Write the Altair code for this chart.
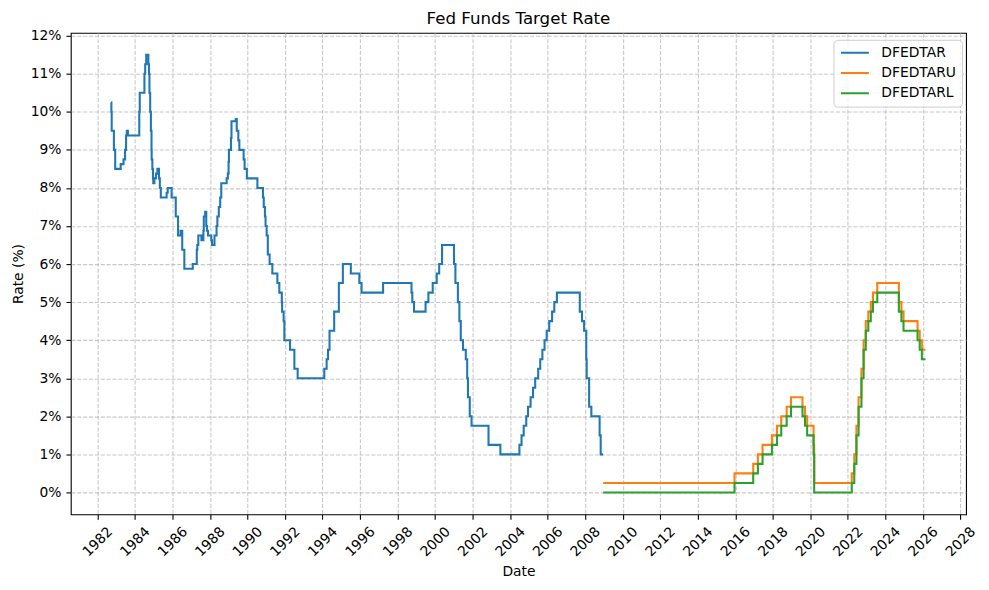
import altair as alt
import pandas as pd

# ---- data (change dates and rates, %) ----
tar_dates = [
    "1982-09-27", "1982-10-01", "1982-10-07", "1982-11-19", "1982-12-14",
    "1983-03-31", "1983-05-25", "1983-06-24", "1983-07-14", "1983-07-28", "1983-08-18",
    "1984-03-27", "1984-04-05", "1984-07-05", "1984-07-20", "1984-08-09", "1984-09-20",
    "1984-10-02", "1984-10-11", "1984-10-25", "1984-11-08", "1984-11-20", "1984-11-23",
    "1984-12-06", "1984-12-18", "1984-12-24",
    "1985-01-15", "1985-02-14", "1985-03-15", "1985-04-15", "1985-05-01", "1985-05-20",
    "1985-09-10", "1985-10-01", "1985-12-16",
    "1986-03-07", "1986-04-21", "1986-06-10", "1986-07-11", "1986-08-21",
    "1987-02-01", "1987-04-20", "1987-05-01", "1987-05-20", "1987-07-20", "1987-08-27",
    "1987-09-04", "1987-10-01", "1987-10-22", "1987-11-04", "1987-11-25",
    "1988-01-28", "1988-02-11", "1988-03-30", "1988-05-09", "1988-05-25", "1988-06-22",
    "1988-07-19", "1988-08-09", "1988-11-22", "1988-12-15", "1988-12-29",
    "1989-01-05", "1989-02-14", "1989-02-24", "1989-05-17", "1989-06-06", "1989-07-07",
    "1989-07-27", "1989-10-18", "1989-11-06", "1989-12-20",
    "1990-07-13", "1990-10-29", "1990-11-14", "1990-12-07", "1990-12-19",
    "1991-01-09", "1991-02-01", "1991-03-08", "1991-04-30", "1991-08-06", "1991-09-13",
    "1991-10-31", "1991-11-06", "1991-12-06", "1991-12-20",
    "1992-04-09", "1992-07-02", "1992-09-04",
    "1994-02-04", "1994-03-22", "1994-04-18", "1994-05-17", "1994-08-16", "1994-11-15",
    "1995-02-01", "1995-07-06", "1995-12-19", "1996-01-31", "1997-03-25",
    "1998-09-29", "1998-10-15", "1998-11-17", "1999-06-30", "1999-08-24", "1999-11-16",
    "2000-02-02", "2000-03-21", "2000-05-16",
    "2001-01-03", "2001-01-31", "2001-03-20", "2001-04-18", "2001-05-15", "2001-06-27",
    "2001-08-21", "2001-09-17", "2001-10-02", "2001-11-06", "2001-12-11",
    "2002-11-06", "2003-06-25",
    "2004-06-30", "2004-08-10", "2004-09-21", "2004-11-10", "2004-12-14",
    "2005-02-02", "2005-03-22", "2005-05-03", "2005-06-30", "2005-08-09", "2005-09-20",
    "2005-11-01", "2005-12-13",
    "2006-01-31", "2006-03-28", "2006-05-10", "2006-06-29",
    "2007-09-18", "2007-10-31", "2007-12-11",
    "2008-01-22", "2008-01-30", "2008-03-18", "2008-04-30", "2008-10-08", "2008-10-29",
    "2008-12-15",
]
tar_vals = [
    10.25, 10.00, 9.50, 9.00, 8.50,
    8.625, 8.75, 9.00, 9.375, 9.50, 9.375,
    10.00, 10.50, 11.00, 11.25, 11.50, 11.25,
    11.00, 10.50, 10.00, 9.50, 9.00, 8.75,
    8.50, 8.25, 8.125,
    8.25, 8.375, 8.50, 8.25, 8.00, 7.75,
    7.875, 8.00, 7.75,
    7.25, 6.75, 6.875, 6.375, 5.875,
    6.00, 6.375, 6.50, 6.75, 6.625, 6.875,
    7.25, 7.375, 7.00, 6.875, 6.75,
    6.625, 6.50, 6.75, 7.00, 7.25, 7.50,
    7.75, 8.125, 8.25, 8.375, 8.6875,
    9.00, 9.3125, 9.75, 9.8125, 9.50, 9.25,
    9.00, 8.75, 8.50, 8.25,
    8.00, 7.75, 7.50, 7.25, 7.00,
    6.75, 6.25, 6.00, 5.75, 5.50, 5.25,
    5.00, 4.75, 4.50, 4.00,
    3.75, 3.25, 3.00,
    3.25, 3.50, 3.75, 4.25, 4.75, 5.50,
    6.00, 5.75, 5.50, 5.25, 5.50,
    5.25, 5.00, 4.75, 5.00, 5.25, 5.50,
    5.75, 6.00, 6.50,
    6.00, 5.50, 5.00, 4.50, 4.00, 3.75,
    3.50, 3.00, 2.50, 2.00, 1.75,
    1.25, 1.00,
    1.25, 1.50, 1.75, 2.00, 2.25,
    2.50, 2.75, 3.00, 3.25, 3.50, 3.75,
    4.00, 4.25,
    4.50, 4.75, 5.00, 5.25,
    4.75, 4.50, 4.25,
    3.50, 3.00, 2.25, 2.00, 1.50, 1.00,
    1.00,
]

range_dates = [
    "2008-12-16", "2015-12-17", "2016-12-15", "2017-03-16", "2017-06-15", "2017-12-14",
    "2018-03-22", "2018-06-14", "2018-09-27", "2018-12-20", "2019-08-01", "2019-09-19",
    "2019-10-31", "2020-03-04", "2020-03-16", "2022-03-17", "2022-05-05", "2022-06-16",
    "2022-07-28", "2022-09-22", "2022-11-03", "2022-12-15", "2023-02-02", "2023-03-23",
    "2023-05-04", "2023-07-27", "2024-09-19", "2024-11-08", "2024-12-19", "2025-09-18",
    "2025-10-30", "2025-12-11", "2026-02-20",
]
upper_vals = [
    0.25, 0.50, 0.75, 1.00, 1.25, 1.50,
    1.75, 2.00, 2.25, 2.50, 2.25, 2.00,
    1.75, 1.25, 0.25, 0.50, 1.00, 1.75,
    2.50, 3.25, 4.00, 4.50, 4.75, 5.00,
    5.25, 5.50, 5.00, 4.75, 4.50, 4.25,
    4.00, 3.75, 3.75,
]
lower_vals = [
    0.00, 0.25, 0.50, 0.75, 1.00, 1.25,
    1.50, 1.75, 2.00, 2.25, 2.00, 1.75,
    1.50, 1.00, 0.00, 0.25, 0.75, 1.50,
    2.25, 3.00, 3.75, 4.25, 4.50, 4.75,
    5.00, 5.25, 4.75, 4.50, 4.25, 4.00,
    3.75, 3.50, 3.50,
]

series_names = ["DFEDTAR", "DFEDTARU", "DFEDTARL"]
series_colors = ["#1f77b4", "#ff7f0e", "#2ca02c"]
tick_years = list(range(1982, 2029, 2))
y_ticks = list(range(0, 13))


def ms(d):
    return int(pd.Timestamp(d, tz="UTC").value // 10**6)


rows = []
for name, dates, vals in [
    (series_names[0], tar_dates, tar_vals),
    (series_names[1], range_dates, upper_vals),
    (series_names[2], range_dates, lower_vals),
]:
    for d, v in zip(dates, vals):
        rows.append({"date": ms(d), "rate": v, "series": name})
df = pd.DataFrame(rows)

x_domain = [ms("1980-08-02"), ms("2028-04-19")]
x_values = [ms(f"{y}-01-01") for y in tick_years]

FONT = "DejaVu Sans"

chart = (
    alt.Chart(df)
    .mark_line(interpolate="step-after", strokeWidth=2.08)
    .encode(
        x=alt.X(
            "date:T",
            scale=alt.Scale(type="utc", domain=x_domain, nice=False),
            axis=alt.Axis(
                values=x_values,
                labelExpr="utcFormat(datum.value, '%Y')",
                labelAngle=315,
                labelAlign="center",
                labelBaseline="middle",
                labelPadding=22.5,
                labelOverlap=False,
                labelFlush=False,
                title="Date",
                titleY=61,
                titleBaseline="alphabetic",
            ),
        ),
        y=alt.Y(
            "rate:Q",
            scale=alt.Scale(domain=[-0.575, 12.075], nice=False, zero=False),
            axis=alt.Axis(
                values=y_ticks,
                labelExpr="datum.value + '%'",
                labelPadding=5,
                title="Rate (%)",
                titleAngle=270,
                titleX=-48.5,
                titleY=241.5,
                titleAlign="center",
                titleBaseline="alphabetic",
            ),
        ),
        color=alt.Color(
            "series:N",
            scale=alt.Scale(domain=series_names, range=series_colors),
            sort=series_names,
            legend=alt.Legend(
                title=None,
                orient="none",
                legendX=765,
                legendY=7,
                symbolType="stroke",
                symbolSize=784,
                symbolStrokeWidth=2.08,
                labelFont=FONT,
                labelFontSize=13.9,
                labelColor="black",
                labelOffset=11,
                clipHeight=14,
                rowPadding=6.3,
                padding=6,
                fillColor="rgba(255,255,255,0.8)",
                strokeColor="#cccccc",
                cornerRadius=4,
            ),
        ),
    )
    .properties(
        width=898,
        height=483,
        padding={"left": 63, "top": 24, "right": 15, "bottom": 70},
        autosize=alt.AutoSizeParams(type="none"),
        title=alt.TitleParams(
            "Fed Funds Target Rate",
            font=FONT,
            fontSize=16.7,
            fontWeight="normal",
            color="black",
            anchor="middle",
            offset=1.5,
        ),
    )
    .configure_view(stroke="black", strokeWidth=1.1)
    .configure_axis(
        labelFont=FONT,
        labelFontSize=13.9,
        labelColor="black",
        titleFont=FONT,
        titleFontSize=13.9,
        titleFontWeight="normal",
        titleColor="black",
        domain=False,
        tickColor="black",
        tickWidth=1.1,
        tickSize=4.86,
        grid=True,
        gridColor="#b0b0b0",
        gridOpacity=0.7,
        gridDash=[4.1, 1.8],
        gridWidth=1.1,
    )
)

chart.save("out.html", embed_options={"renderer": "svg", "actions": False})
